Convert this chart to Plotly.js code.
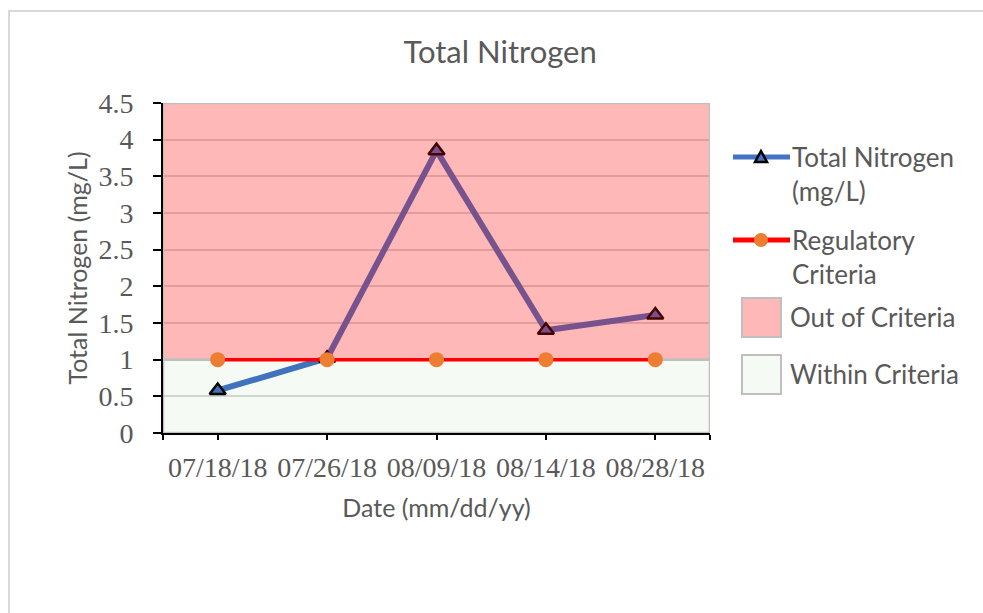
<!DOCTYPE html>
<html>
<head>
<meta charset="utf-8">
<script src="https://cdn.plot.ly/plotly-3.0.1.min.js"></script>
<style>
  html, body { margin: 0; padding: 0; background: #ffffff; overflow: hidden; }
  #chart { position: absolute; left: 0; top: 0; width: 983px; height: 613px; }
  #frame { position: absolute; left: 8px; top: 10px; width: 1000px; height: 700px;
           border: 2px solid #d9d9d9; pointer-events: none; }
</style>
</head>
<body>
<div id="chart"></div>
<div id="frame"></div>
<script>
// ---- data ----
const dates = ["07/18/18", "07/26/18", "08/09/18", "08/14/18", "08/28/18"];
const totalNitrogen = [0.58, 1.02, 3.85, 1.40, 1.61];
const regulatoryCriteria = [1, 1, 1, 1, 1];
const criteriaLimit = 1;
const yMax = 4.5;

// legend labels
const seriesNames = ["Total Nitrogen<br>(mg/L)", "Regulatory<br>Criteria", "Out of Criteria", "Within Criteria"];

// positions of the categories on a linear axis
const idx = dates.map((d, i) => i);
const xLo = -0.5, xHi = dates.length - 0.5;

const gray = "#595959";
const sansFont = "Lato, 'Open Sans', sans-serif";
const serifFont = "'Liberation Serif', 'Times New Roman', serif";

const blue = "#4472C4", red = "#FF0000", orange = "#ED7D31";
const pinkFill = "rgba(255,0,0,0.28)", greenFill = "rgba(0,120,0,0.04)";
const boxLine = "#bfbfbf";

const traces = [
  {
    name: seriesNames[0],
    x: idx, y: totalNitrogen,
    type: "scatter", mode: "lines+markers",
    line: { color: blue, width: 6 },
    marker: { symbol: "triangle-up", size: 14, color: blue,
              line: { color: "#000000", width: 2.5 } },
    hoverinfo: "skip"
  },
  {
    name: seriesNames[2],
    x: [xLo, xHi, xHi, xLo, xLo],
    y: [criteriaLimit, criteriaLimit, yMax, yMax, criteriaLimit],
    type: "scatter", mode: "lines", fill: "toself",
    fillcolor: pinkFill,
    line: { color: boxLine, width: 2.5 },
    hoverinfo: "skip"
  },
  {
    name: seriesNames[3],
    x: [xLo, xHi, xHi, xLo, xLo],
    y: [0, 0, criteriaLimit, criteriaLimit, 0],
    type: "scatter", mode: "lines", fill: "toself",
    fillcolor: greenFill,
    line: { color: boxLine, width: 2.5 },
    hoverinfo: "skip"
  },
  {
    name: seriesNames[1],
    x: idx, y: regulatoryCriteria,
    type: "scatter", mode: "lines+markers",
    line: { color: red, width: 3.5 },
    marker: { symbol: "circle", size: 15, color: orange },
    hoverinfo: "skip"
  }
];

// ---- legend drawn in pixel space, converted to paper coordinates ----
const W = 983, H = 613;
const M = { l: 163, r: 273, t: 103, b: 180 };
const pw = W - M.l - M.r, ph = H - M.t - M.b;
const px = v => (v - M.l) / pw;
const py = v => (H - M.b - v) / ph;

const shapes = [];
const annotations = [];

function legendLine(yc, color, width) {
  shapes.push({ type: "line", xref: "paper", yref: "paper",
    x0: px(733), x1: px(790), y0: py(yc), y1: py(yc),
    line: { color: color, width: width } });
}
// entry 1: line + triangle
legendLine(157, blue, 5);
shapes.push({ type: "path", xref: "paper", yref: "paper",
  path: "M " + px(761) + " " + py(151) + " L " + px(767) + " " + py(162) +
        " L " + px(755) + " " + py(162) + " Z",
  fillcolor: blue, line: { color: "#000000", width: 2.5 } });
// entry 2: line + circle
legendLine(240, red, 5);
shapes.push({ type: "circle", xref: "paper", yref: "paper",
  x0: px(754), x1: px(768), y0: py(247), y1: py(233),
  fillcolor: orange, line: { width: 0 } });
// entry 3 and 4: boxes
shapes.push({ type: "rect", xref: "paper", yref: "paper",
  x0: px(742), x1: px(781), y0: py(337), y1: py(298),
  fillcolor: pinkFill, line: { color: boxLine, width: 2 } });
shapes.push({ type: "rect", xref: "paper", yref: "paper",
  x0: px(742), x1: px(781), y0: py(394), y1: py(355),
  fillcolor: greenFill, line: { color: boxLine, width: 2 } });

function legendText(text, x, yc) {
  annotations.push({ text: text, xref: "paper", yref: "paper",
    x: px(x), y: py(yc), xanchor: "left", yanchor: "middle", align: "left",
    showarrow: false, font: { family: sansFont, size: 26, color: gray } });
}
legendText(seriesNames[0], 790, 173.5);
legendText(seriesNames[1], 790, 256.5);
legendText(seriesNames[2], 788, 317);
legendText(seriesNames[3], 788, 374);

const layout = {
  width: W, height: H,
  margin: M,
  paper_bgcolor: "#ffffff",
  plot_bgcolor: "#ffffff",
  showlegend: false,
  title: {
    text: "Total Nitrogen",
    font: { family: sansFont, size: 31, color: gray },
    x: 0.5087, xref: "container", xanchor: "center",
    y: 0.915, yref: "container", yanchor: "middle"
  },
  xaxis: {
    type: "linear",
    range: [xLo, xHi],
    tickvals: [xLo].concat(idx, [xHi]),
    ticktext: [""].concat(dates, [""]),
    ticks: "outside", ticklen: 5, tickwidth: 2, tickcolor: "#000000",
    showline: true, linecolor: "#000000", linewidth: 2,
    showgrid: false, zeroline: false,
    tickfont: { family: serifFont, size: 28, color: gray },
    ticklabelstandoff: 3,
    title: { text: "Date (mm/dd/yy)", font: { family: sansFont, size: 25, color: gray }, standoff: 18 },
    automargin: false, fixedrange: true
  },
  yaxis: {
    range: [0, yMax],
    dtick: 0.5, tick0: 0,
    ticks: "outside", ticklen: 8, tickwidth: 2, tickcolor: "#000000",
    showline: true, linecolor: "#000000", linewidth: 2,
    showgrid: true, gridcolor: "#d9d9d9", gridwidth: 2,
    zeroline: false,
    tickfont: { family: serifFont, size: 28, color: gray },
    ticklabelstandoff: 14,
    title: { text: "Total Nitrogen (mg/L)", font: { family: sansFont, size: 25, color: gray }, standoff: 4 },
    automargin: false, fixedrange: true
  },
  shapes: shapes,
  annotations: annotations
};

Plotly.newPlot("chart", traces, layout, { staticPlot: true, displayModeBar: false });
</script>
</body>
</html>
